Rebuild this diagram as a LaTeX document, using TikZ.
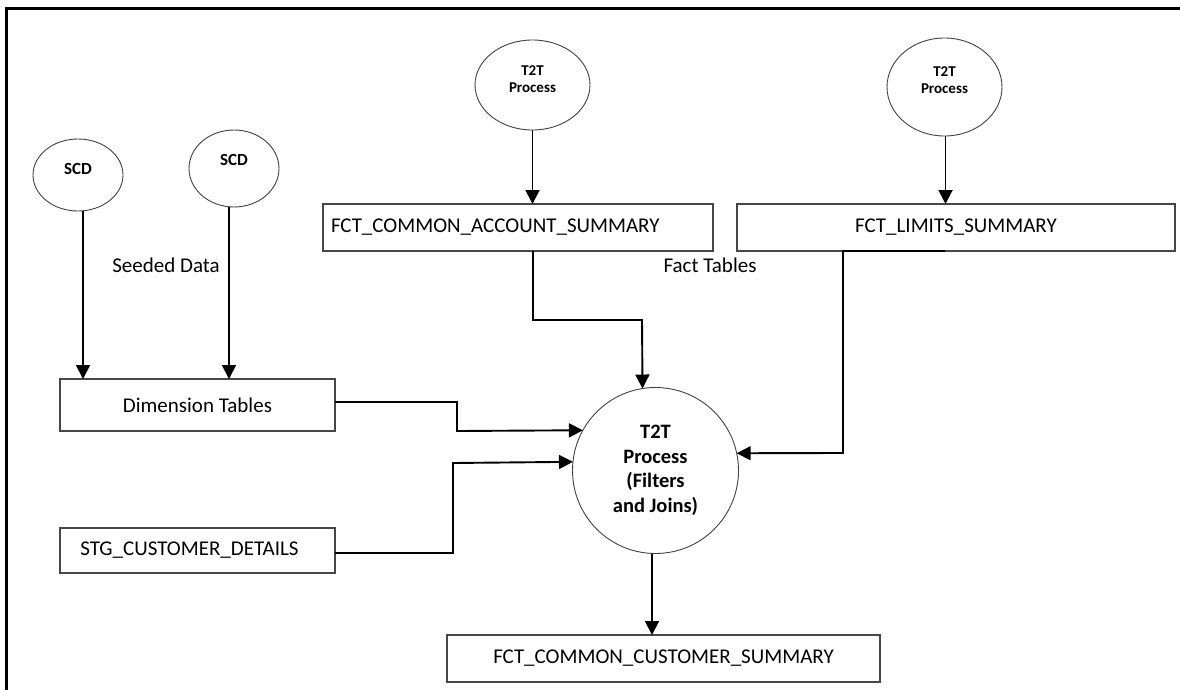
\documentclass[tikz,border=0pt]{standalone}
\usepackage{fontspec}
\setmainfont{Carlito}
\usetikzlibrary{arrows.meta,shapes.geometric}
\begin{document}
\begin{tikzpicture}[x=1pt,y=-1pt,
  every node/.style={inner sep=0pt,outer sep=0pt},
  tbox/.style={draw=black!72,line width=1.2pt,rectangle,font=\fontsize{21}{25}\selectfont},
  oval/.style={draw=black!75,line width=0.9pt,ellipse},
  ovtext/.style={font=\bfseries\fontsize{15}{17}\selectfont,align=center},
  plain/.style={font=\fontsize{21}{25}\selectfont},
  arr/.style={draw=black,line width=1.9pt,-{Triangle[width=14pt,length=14pt]}}]
\useasboundingbox (0,0) rectangle (1180,690);
% frame
\draw[line width=3pt] (6.7,690) -- (6.7,8.7) -- (1180,8.7);

% ellipses
\node[oval,minimum width=90pt,minimum height=72pt] (scd1) at (78,175) {};
\node[ovtext,font=\bfseries\fontsize{17}{20}\selectfont] (scd1t) at ([yshift=6pt]scd1.center) {SCD};
\node[oval,minimum width=90pt,minimum height=77pt] (scd2) at (234,168.5) {};
\node[ovtext,font=\bfseries\fontsize{17}{20}\selectfont] (scd2t) at ([yshift=9pt]scd2.center) {SCD};
\node[oval,minimum width=115pt,minimum height=90pt] (tt1) at (532.5,85) {};
\node[ovtext] (tt1t) at ([yshift=6pt]tt1.center) {T2T\\Process};
\node[oval,minimum width=115pt,minimum height=98pt] (tt2) at (944.5,87) {};
\node[ovtext] (tt2t) at ([yshift=7pt]tt2.center) {T2T\\Process};

% big circle
\node[draw=black!75,line width=0.9pt,circle,minimum size=166pt,
      font=\bfseries\fontsize{20.5}{24.6}\selectfont,align=center] (big) at (655.5,470.5)
      {T2T\\Process\\(Filters\\and Joins)};

% boxes
\node[tbox,minimum width=390pt,minimum height=47pt] (acct) at (518,227.5) {};
\node[plain,anchor=west] (acctt) at ([xshift=8pt]acct.west) {FCT\_COMMON\_ACCOUNT\_SUMMARY};
\node[tbox,minimum width=438pt,minimum height=47pt] (lim) at (956,227.5) {FCT\_LIMITS\_SUMMARY};
\node[tbox,minimum width=275pt,minimum height=52pt] (dim) at (197.5,405) {Dimension Tables};
\node[tbox,minimum width=275pt,minimum height=45pt] (stg) at (197.5,550.5) {\hspace{-16pt}STG\_CUSTOMER\_DETAILS};
\node[tbox,minimum width=433pt,minimum height=47pt] (ccs) at (663.5,658.5) {FCT\_COMMON\_CUSTOMER\_SUMMARY};

% labels
\node[plain] (seed) at (166,265) {Seeded Data};
\node[plain] (fact) at (710,265) {Fact Tables};

% connectors
\draw[arr] ([xshift=5pt]scd1.south) -- ([xshift=5pt]scd1.south |- dim.north);
\draw[arr] ([xshift=-5pt]scd2.south) -- ([xshift=-5pt]scd2.south |- dim.north);
\draw[arr] (tt1.south) -- (tt1.south |- acct.north);
\draw[arr] ([xshift=1pt]tt2.south) -- ([xshift=1pt]tt2.south |- lim.north);
\draw[arr] ([xshift=15pt]acct.south) -- ++(0,69) -- ++(109,0) -- (big.99.4);
\draw[arr] ([xshift=-11pt]lim.south) -- ++(-102,0) -- ++(0,202) -- (big.12.9);
\draw[arr] ([yshift=3pt]dim.east) -- ++(122,0) -- ++(0,29) -- (big.151.6);
\draw[arr] ([yshift=-2.5pt]stg.east) -- ++(118,0) -- ++(0,-90) -- (big.174.8);
\draw[arr] ([xshift=-3.5pt]big.south) -- ([xshift=-3.5pt]big.south |- ccs.north);
\end{tikzpicture}
\end{document}
